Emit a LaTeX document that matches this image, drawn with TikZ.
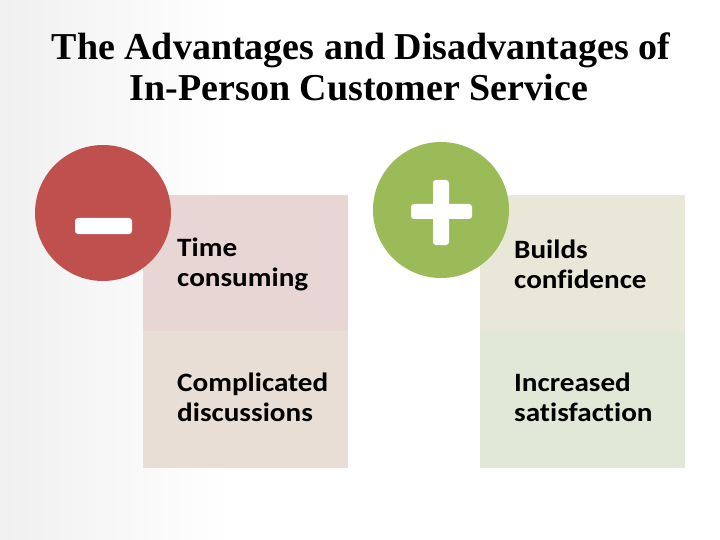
\documentclass[tikz,border=0pt]{standalone}
\usepackage{fontspec}
\setmainfont{Liberation Serif}
\newfontfamily\bodyfont[FakeStretch=1.1, Ligatures=NoCommon]{Carlito}
\definecolor{minusred}{HTML}{C0504D}
\definecolor{plusgreen}{HTML}{9BBB59}
\definecolor{boxA}{HTML}{E8D6D5}
\definecolor{boxB}{HTML}{E9DED6}
\definecolor{boxC}{HTML}{E9E8D8}
\definecolor{boxD}{HTML}{E1E8D8}
\begin{document}
\begin{tikzpicture}[x=1pt,y=-1pt,
  titletext/.style={font=\fontsize{38}{44}\selectfont\bfseries, anchor=base},
  cellbox/.style={anchor=north west, minimum width=205pt, minimum height=136pt, inner sep=0pt, draw=none},
  celltext/.style={font=\bodyfont\fontsize{26.5}{30}\selectfont\bfseries, align=left, anchor=west, inner sep=0pt},
  badge/.style={circle, minimum size=136pt, inner sep=0pt},
  bar/.style={fill=white, rounded corners=3pt}
]
\useasboundingbox (0,0) rectangle (720,540);
\shade[left color=black!6, right color=white] (0,0) rectangle (230,540);

\node[titletext] (t1) at (361,60) {The Advantages and Disadvantages of};
\node[titletext] (t2) at (359,101) {In-Person Customer Service};

% boxes
\node[cellbox, fill=boxA] (a1) at (143,195) {};
\node[cellbox, fill=boxB, minimum height=137pt] (a2) at (143,331) {};
\node[cellbox, fill=boxC] (b1) at (480,195) {};
\node[cellbox, fill=boxD, minimum height=137pt] (b2) at (480,331) {};

\node[celltext] (ta1) at ([xshift=34pt,yshift=-1.5pt]a1.west) {Time\\consuming};
\node[celltext] (ta2) at ([xshift=34pt,yshift=2pt]a2.west) {Complicated\\discussions};
\node[celltext] (tb1) at ([xshift=34pt,yshift=-1.5pt]b1.west) {Builds\\confidence};
\node[celltext] (tb2) at ([xshift=34pt,yshift=2pt]b2.west) {Increased\\satisfaction};

% badges
\node[badge, fill=minusred] (minus) at (103,213) {};
\fill[bar] (75,218) rectangle (132,234);
\node[badge, fill=plusgreen] (plus) at (441,210) {};
\fill[bar] (411,204) rectangle (472,219);
\fill[bar] (433,180) rectangle (449,245);
\end{tikzpicture}
\end{document}
